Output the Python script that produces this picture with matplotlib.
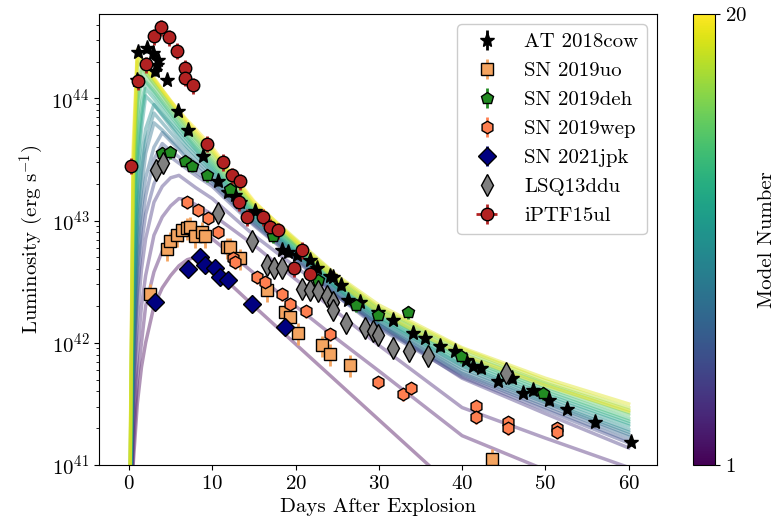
import numpy as np
import matplotlib
matplotlib.use('Agg')
import matplotlib.pyplot as plt
from matplotlib import cm, colors

plt.rcParams.update({
    'font.family': 'serif',
    'font.serif': ['cmr10', 'DejaVu Serif'],
    'mathtext.fontset': 'cm',
    'axes.formatter.use_mathtext': True,
    'axes.unicode_minus': False,
})

# model light curves, log10 L on a common time grid (days)
t_model = [0, 0.5, 1, 1.5, 2, 3, 4, 5, 6, 7, 8, 10, 12, 15, 20, 25, 30, 40, 50, 60]
model_logL = [
    [40.0, 41.0, 41.5, 41.8, 42.0, 42.3, 42.45, 42.55, 42.63, 42.68, 42.70, 42.61, 42.49, 42.30, 41.99, 41.68, 41.37, 40.75, 40.2, 39.6],
    [40.0, 41.1, 41.7, 42.0, 42.3, 42.58, 42.75, 42.85, 42.91, 42.94, 42.93, 42.85, 42.74, 42.57, 42.30, 42.03, 41.77, 41.24, 40.96, 40.70],
    [40.0, 41.3, 41.9, 42.3, 42.55, 42.88, 43.03, 43.12, 43.18, 43.17, 43.13, 43.05, 42.95, 42.80, 42.52, 42.25, 41.98, 41.47, 41.22, 40.98],
    [40.0, 41.5, 42.2, 42.6, 42.85, 43.15, 43.28, 43.35, 43.37, 43.32, 43.27, 43.18, 43.06, 42.88, 42.62, 42.38, 42.15, 41.71, 41.42, 41.14],
    [40.0, 41.6, 42.4, 42.8, 43.05, 43.3, 43.45, 43.52, 43.47, 43.42, 43.37, 43.28, 43.15, 42.96, 42.68, 42.38, 42.12, 41.72, 41.45, 41.18],
    [40.0, 41.7, 42.55, 42.95, 43.2, 43.5, 43.63, 43.57, 43.52, 43.46, 43.40, 43.30, 43.17, 42.97, 42.69, 42.39, 42.13, 41.74, 41.47, 41.20],
    [40.0, 41.8, 42.7, 43.1, 43.35, 43.6, 43.72, 43.65, 43.58, 43.50, 43.44, 43.32, 43.19, 42.99, 42.70, 42.40, 42.15, 41.75, 41.49, 41.23],
    [40.0, 41.9, 42.85, 43.25, 43.55, 43.80, 43.74, 43.67, 43.60, 43.53, 43.47, 43.34, 43.20, 43.00, 42.72, 42.42, 42.16, 41.77, 41.51, 41.25],
    [40.0, 42.0, 43.0, 43.4, 43.65, 43.88, 43.80, 43.72, 43.64, 43.57, 43.50, 43.37, 43.22, 43.01, 42.73, 42.43, 42.17, 41.79, 41.52, 41.27],
    [40.0, 42.1, 43.1, 43.5, 43.75, 43.95, 43.86, 43.77, 43.68, 43.60, 43.53, 43.39, 43.24, 43.03, 42.74, 42.44, 42.19, 41.81, 41.54, 41.29],
    [40.0, 42.3, 43.3, 43.75, 44.02, 43.95, 43.87, 43.79, 43.71, 43.63, 43.56, 43.41, 43.26, 43.04, 42.75, 42.45, 42.20, 41.82, 41.56, 41.32],
    [40.0, 42.5, 43.45, 43.85, 44.08, 44.00, 43.91, 43.82, 43.74, 43.66, 43.58, 43.43, 43.28, 43.05, 42.76, 42.46, 42.21, 41.84, 41.58, 41.34],
    [40.0, 42.7, 43.6, 43.95, 44.13, 44.04, 43.95, 43.86, 43.77, 43.68, 43.60, 43.45, 43.29, 43.07, 42.78, 42.48, 42.23, 41.86, 41.60, 41.36],
    [40.0, 42.9, 43.8, 44.18, 44.14, 44.06, 43.97, 43.88, 43.79, 43.70, 43.62, 43.47, 43.31, 43.08, 42.79, 42.49, 42.24, 41.88, 41.62, 41.38],
    [40.0, 43.1, 43.95, 44.22, 44.18, 44.09, 44.00, 43.91, 43.82, 43.73, 43.65, 43.49, 43.33, 43.09, 42.80, 42.50, 42.25, 41.89, 41.64, 41.41],
    [40.0, 43.2, 44.05, 44.26, 44.21, 44.12, 44.03, 43.93, 43.84, 43.75, 43.67, 43.51, 43.35, 43.11, 42.81, 42.51, 42.27, 41.91, 41.66, 41.43],
    [40.0, 43.3, 44.30, 44.26, 44.22, 44.13, 44.04, 43.95, 43.86, 43.77, 43.69, 43.54, 43.37, 43.12, 42.82, 42.52, 42.28, 41.93, 41.67, 41.45],
    [40.0, 43.4, 44.33, 44.29, 44.24, 44.15, 44.06, 43.97, 43.88, 43.79, 43.71, 43.56, 43.38, 43.13, 42.84, 42.54, 42.29, 41.95, 41.69, 41.47],
    [40.0, 43.5, 44.36, 44.31, 44.26, 44.16, 44.07, 43.98, 43.89, 43.81, 43.73, 43.58, 43.40, 43.15, 42.85, 42.55, 42.31, 41.96, 41.71, 41.50],
    [40.0, 43.6, 44.40, 44.33, 44.27, 44.17, 44.07, 43.98, 43.90, 43.82, 43.75, 43.60, 43.42, 43.16, 42.83, 42.50, 42.25, 41.90, 41.65, 41.44],
]

# observed objects: days after explosion, log10 L
cow_t = [1.12, 2.12, 2.92, 3.52, 3.32, 3.12, 0.92, 4.52, 5.92, 7.12, 8.92, 10.72, 11.92, 12.72, 13.32, 15.12,
         18.32, 19.12, 20.12, 21.72, 22.52, 24.12, 24.52, 25.52, 26.32, 27.72, 29.92, 31.72, 34.12, 35.52,
         37.40, 39.12, 40.52, 41.32, 42.32, 44.32, 46.04, 47.32, 48.52, 50.44, 52.64, 55.92, 60.32]
cow_logL = [44.38, 44.41, 44.37, 44.31, 44.27, 44.22, 44.15, 44.15, 43.90, 43.74, 43.53, 43.32, 43.23, 43.21, 43.15, 43.08,
            42.76, 42.74, 42.72, 42.68, 42.61, 42.55, 42.54, 42.47, 42.35, 42.33, 42.25, 42.19, 42.08, 42.04,
            41.97, 41.93, 41.86, 41.81, 41.79, 41.69, 41.71, 41.59, 41.61, 41.53, 41.46, 41.35, 41.19]

uo_t = [2.52, 4.52, 4.92, 5.72, 6.32, 6.92, 7.32, 7.92, 8.72, 9.12, 11.72, 12.12, 13.32, 16.52, 18.72, 19.32,
        20.32, 23.12, 24.12, 26.60, 43.64]
uo_logL = [42.40, 42.77, 42.83, 42.88, 42.92, 42.94, 42.95, 42.87, 42.91, 42.87, 42.78, 42.78, 42.69, 42.43, 42.25, 42.21,
           42.08, 41.98, 41.91, 41.82, 41.05]

deh_t = [3.92, 4.92, 6.72, 7.52, 9.32, 12.12, 17.32, 22.72, 27.24, 29.92, 33.52, 39.84, 49.72]
deh_logL = [43.55, 43.56, 43.49, 43.45, 43.37, 43.26, 42.87, 42.51, 42.31, 42.23, 42.25, 41.89, 41.59]

wep_t = [6.92, 8.32, 9.52, 10.72, 12.52, 12.72, 15.32, 16.32, 18.32, 19.32, 21.24, 24.12, 29.92, 32.92, 33.92,
         41.64, 41.64, 45.52, 45.52, 51.40, 51.40]
wep_logL = [43.15, 43.09, 43.02, 42.91, 42.69, 42.66, 42.54, 42.50, 42.40, 42.32, 42.26, 42.07, 41.68, 41.58, 41.63,
            41.48, 41.39, 41.35, 41.30, 41.30, 41.27]

jpk_t = [3.12, 7.12, 8.52, 9.12, 10.32, 10.92, 11.92, 14.72, 18.72]
jpk_logL = [42.33, 42.60, 42.70, 42.64, 42.61, 42.54, 42.51, 42.32, 42.13]

ddu_t = [3.28, 4.12, 10.72, 14.72, 16.52, 17.40, 18.32, 20.72, 21.72, 22.72, 23.72, 24.52, 24.44, 26.12, 28.32,
         29.32, 29.92, 31.68, 33.60, 35.92, 45.24]
ddu_logL = [43.41, 43.47, 43.06, 42.83, 42.64, 42.61, 42.61, 42.44, 42.43, 42.42, 42.38, 42.33, 42.27, 42.16, 42.12,
            42.10, 42.06, 41.96, 41.93, 41.89, 41.75]

ptf_t = [0.20, 1.04, 2.00, 3.00, 3.84, 4.80, 5.72, 6.72, 6.72, 7.64, 9.40, 11.32, 12.32, 13.32, 13.24, 14.12,
         16.08, 16.92, 17.92, 20.72, 19.84, 21.72]
ptf_logL = [43.45, 44.14, 44.28, 44.51, 44.58, 44.50, 44.39, 44.25, 44.17, 44.11, 43.63, 43.48, 43.37, 43.32, 43.15, 43.03,
            43.03, 42.95, 42.92, 42.76, 42.61, 42.56]

fig = plt.figure(figsize=(7.77, 5.31), dpi=100)
ax = fig.add_axes([0.1274, 0.1243, 0.7181, 0.8493])
cax = fig.add_axes([0.8919, 0.1243, 0.0283, 0.8493])

cmap = plt.get_cmap('viridis')
norm = colors.Normalize(vmin=1, vmax=len(model_logL))
for i, row in enumerate(model_logL):
    ax.plot(t_model, 10**np.array(row), color=cmap(norm(i + 1)), alpha=0.42, lw=2.5, zorder=1)


def obs(t, logL, frac, **kw):
    L = 10**np.array(logL)
    return ax.errorbar(t, L, yerr=frac * L, ls='none', mec='k', mew=1, elinewidth=2, zorder=3, **kw)


obs(cow_t, cow_logL, 0.08, fmt='*', color='k', ms=11, label='AT 2018cow')
obs(uo_t, uo_logL, 0.2, fmt='s', color='sandybrown', ms=9, label='SN 2019uo')
obs(deh_t, deh_logL, 0.12, fmt='p', color='forestgreen', ms=9, label='SN 2019deh')
obs(wep_t, wep_logL, 0.12, fmt='h', color='coral', ms=9, label='SN 2019wep')
obs(jpk_t, jpk_logL, 0.08, fmt='D', color='navy', ms=9, label='SN 2021jpk')
obs(ddu_t, ddu_logL, 0.08, fmt='d', color='grey', ms=11, label='LSQ13ddu')
L = 10**np.array(ptf_logL)
ax.errorbar(ptf_t, L, yerr=0.15 * L, xerr=0.3, fmt='o', color='firebrick', ms=9, mec='k', mew=1,
            elinewidth=2, ls='none', zorder=3, label='iPTF15ul')

ax.set_yscale('log')
ax.set_xlim(-3.6, 63.4)
ax.set_ylim(1e41, 4.9e44)
ax.set_xlabel('Days After Explosion', fontsize=15)
ax.set_ylabel(r'Luminosity (erg s$^{\mathbf{-1}}$)', fontsize=15)
ax.tick_params(labelsize=15)
ax.legend(loc='upper right', fontsize=15, framealpha=1)

sm = cm.ScalarMappable(norm=norm, cmap=cmap)
cb = fig.colorbar(sm, cax=cax, ticks=[1, 20])
cb.ax.tick_params(labelsize=15)
cb.set_label('Model Number', fontsize=15, labelpad=8)

plt.savefig('out.png', dpi=100)
